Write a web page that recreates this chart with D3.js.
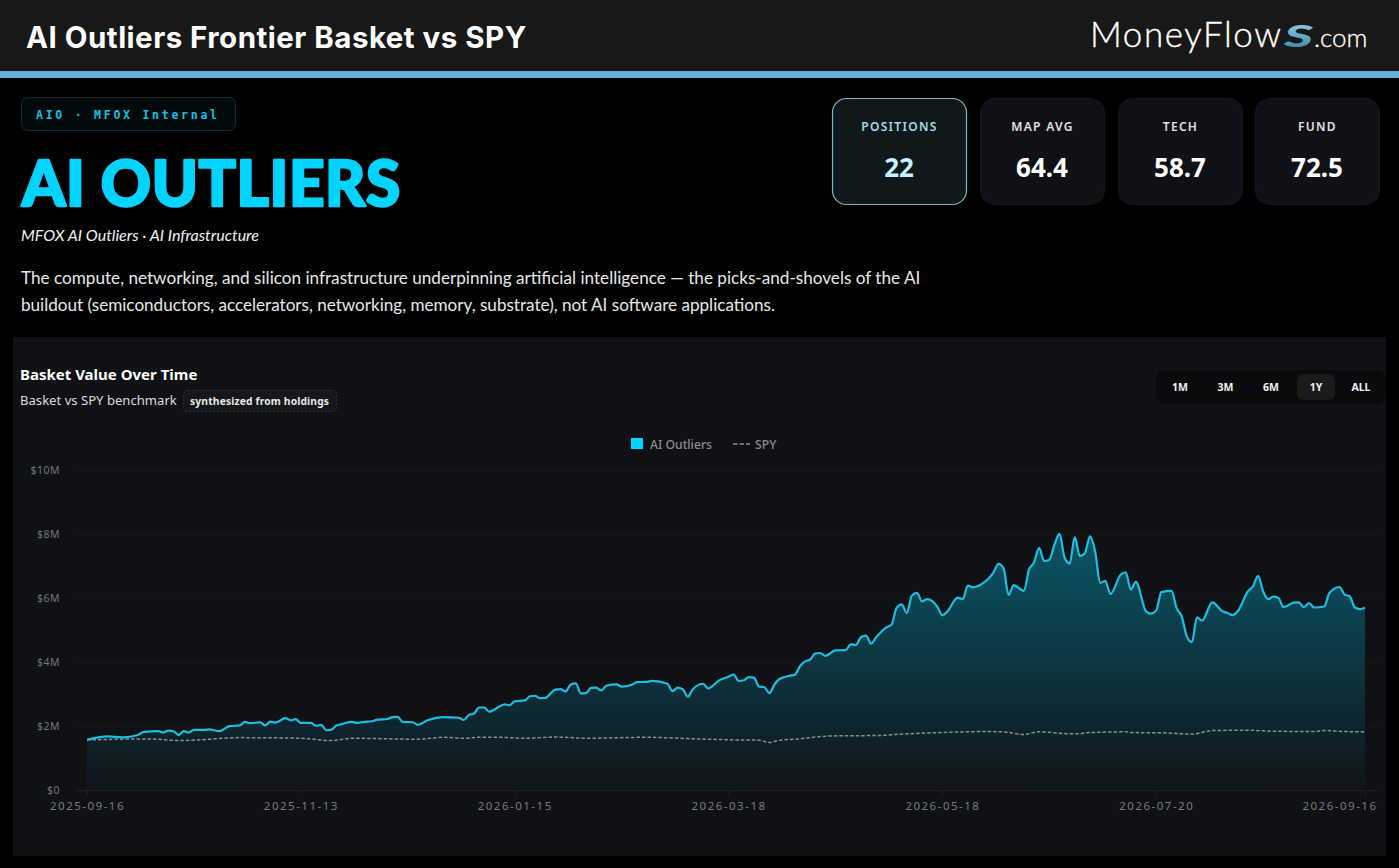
<!DOCTYPE html>
<html><head><meta charset="utf-8">
<script src="https://cdn.jsdelivr.net/npm/d3@7"></script>
<style>html,body{margin:0;padding:0;background:#000;overflow:hidden}svg{display:block}</style>
</head><body><svg id="c" width="1399" height="868"></svg>
<script>
// trading-session index (0 = 2025-09-16, 251 = 2026-09-16)
const basketSessions=[0,2,4,7,10,11,14,15,16,17,18,19,20,21,23,24,26,28,30,31,32,34,35,36,37,39,40,41,42,44,45,46,47,48,49,50,52,53,55,56,57,59,60,61,62,64,65,67,70,73,74,75,76,77,78,79,81,82,83,84,86,87,88,89,90,92,93,94,95,96,97,98,99,100,101,102,104,105,107,108,110,111,114,115,116,117,118,119,121,122,123,124,126,127,128,129,130,131,132,133,134,135,136,138,139,140,141,142,143,144,145,147,149,150,151,152,153,154,155,157,158,159,160,161,162,163,164,165,167,168,169,171,172,173,174,176,178,179,180,181,182,184,185,186,187,188,189,190,191,192,193,194,195,196,197,198,199,200,201,203,204,205,206,208,209,210,211,213,214,215,216,217,218,219,221,223,224,225,226,228,229,230,231,232,233,234,235,237,238,239,240,241,243,244,246,247,248,249,250,251];
const basketValues=[1.58,1.65,1.69,1.66,1.73,1.82,1.85,1.81,1.87,1.85,1.73,1.85,1.81,1.89,1.89,1.91,1.85,2.01,2.03,2.14,2.10,2.13,2.03,2.15,2.12,2.26,2.19,2.23,2.11,2.11,2.02,2.05,1.88,1.90,2.03,2.07,2.14,2.11,2.15,2.16,2.21,2.23,2.29,2.30,2.14,2.13,2.05,2.20,2.29,2.27,2.20,2.36,2.40,2.59,2.59,2.46,2.62,2.69,2.66,2.78,2.81,2.94,2.95,2.88,2.89,3.15,3.16,3.09,3.31,3.34,3.03,3.04,3.20,3.21,3.12,3.27,3.31,3.24,3.30,3.38,3.39,3.42,3.33,3.10,3.21,3.16,2.93,3.16,3.33,3.18,3.28,3.42,3.55,3.62,3.42,3.44,3.54,3.52,3.24,3.23,3.04,3.30,3.48,3.58,3.61,3.87,4.03,4.08,4.27,4.29,4.20,4.37,4.38,4.56,4.54,4.78,4.83,4.58,4.78,5.09,5.17,5.70,5.81,5.54,6.08,6.17,5.90,5.97,5.74,5.47,5.59,6.02,5.97,6.39,6.34,6.47,6.79,7.07,6.94,6.10,6.41,6.23,6.89,7.12,7.57,7.16,7.20,7.67,8.01,7.26,7.08,7.91,7.31,7.41,7.93,7.46,6.48,6.54,6.13,6.73,6.81,6.27,6.51,5.59,5.52,5.62,6.19,6.23,5.69,5.43,4.81,4.63,5.40,5.30,5.87,5.59,5.54,5.47,5.59,6.21,6.37,6.70,6.21,5.97,6.05,6.01,5.72,5.86,5.87,5.72,5.85,5.71,5.74,6.16,6.35,6.11,6.06,5.71,5.66,5.70];
const spySessions=[0,3,12,18,22,30,42,48,52,65,70,74,77,81,86,92,98,110,118,127,132,134,136,139,146,156,160,166,177,180,184,187,193,195,196,204,205,209,211,217,221,228,233,241,243,247,251];
const spyValues=[1.58,1.59,1.61,1.56,1.58,1.65,1.63,1.56,1.63,1.60,1.66,1.63,1.66,1.66,1.63,1.67,1.63,1.66,1.62,1.58,1.57,1.50,1.57,1.60,1.70,1.72,1.76,1.80,1.84,1.83,1.75,1.83,1.77,1.77,1.80,1.83,1.81,1.80,1.80,1.76,1.87,1.88,1.85,1.84,1.87,1.84,1.83];
const tickSessions=[0,42,84,126,168,210,251];
const tickDates=["2025-09-16","2025-11-13","2026-01-15","2026-03-18","2026-05-18","2026-07-20","2026-09-16"];
const yTicks=[0,2,4,6,8,10];
const stats=[["POSITIONS","22"],["MAP AVG","64.4"],["TECH","58.7"],["FUND","72.5"]];
const ranges=["1M","3M","6M","1Y","ALL"];
const activeRange="1Y";

const svg=d3.select("#c");
const sans="Lato, sans-serif", noto="'Noto Sans', sans-serif", mono="'DejaVu Sans Mono', monospace";
const rect=(p,x,y,w,h,o={})=>{const r=p.append("rect").attr("x",x).attr("y",y).attr("width",w).attr("height",h);
 Object.entries(o).forEach(([k,v])=>r.attr(k,v));return r;};
const text=(p,x,y,s,o={})=>{const t=p.append("text").attr("x",x).attr("y",y).text(s);
 Object.entries(o).forEach(([k,v])=>t.attr(k,v));return t;};

const defs=svg.append("defs");
const g=defs.append("linearGradient").attr("id","ag").attr("x1",0).attr("x2",0).attr("y1",0).attr("y2",1);
g.append("stop").attr("offset",0).attr("stop-color","#00d4ff").attr("stop-opacity",0.35);
g.append("stop").attr("offset",1).attr("stop-color","#00d4ff").attr("stop-opacity",0.02);
const sg=defs.append("linearGradient").attr("id","sg").attr("x1",0).attr("x2",0).attr("y1",0).attr("y2",1);
sg.append("stop").attr("offset",0).attr("stop-color","#a3dcee");
sg.append("stop").attr("offset",1).attr("stop-color","#2f7f9f");

rect(svg,0,0,1399,868,{fill:"#000"});
rect(svg,0,0,1399,71,{fill:"#181818"});
rect(svg,0,71,1399,7,{fill:"#62b0d9"});
text(svg,26,47.5,"AI Outliers Frontier Basket vs SPY",{fill:"#fff","font-family":"Inter, sans-serif","font-size":29.5,"font-weight":700,"letter-spacing":0.48});
text(svg,1090,47,"MoneyFlow",{fill:"#fff","font-family":"Lato, sans-serif","font-size":35,"font-weight":300,"letter-spacing":1.6,"stroke":"#fff","stroke-width":0.35});
text(svg,1284,47,"S",{fill:"url(#sg)","font-family":"Lato, sans-serif","font-size":30,"font-weight":900,"font-style":"italic","textLength":29,"lengthAdjust":"spacingAndGlyphs"});
text(svg,1314,47,".com",{fill:"#fff","font-family":"Lato, sans-serif","font-size":26,"font-weight":300,"stroke":"#fff","stroke-width":0.3});

rect(svg,21.5,97.5,214,33,{fill:"#020a0c",stroke:"#0f2c33",rx:6});
text(svg,36,119,"AIO · MFOX Internal",{fill:"#14c2e6","font-family":mono,"font-size":11.5,"font-weight":700,"letter-spacing":2.75});
text(svg,22,206,"AI OUTLIERS",{fill:"#00d4ff",stroke:"#00d4ff","stroke-width":2.4,"stroke-linejoin":"round","font-family":sans,"font-size":62,"font-weight":900,"letter-spacing":0.6});
text(svg,21,241,"MFOX AI Outliers · AI Infrastructure",{fill:"#f2f2f2","font-family":sans,"font-size":16,"font-style":"italic"});
text(svg,21,284,"The compute, networking, and silicon infrastructure underpinning artificial intelligence — the picks-and-shovels of the AI",{fill:"#e8e8e8","font-family":sans,"font-size":17.15});
text(svg,21,311,"buildout (semiconductors, accelerators, networking, memory, substrate), not AI software applications.",{fill:"#e8e8e8","font-family":sans,"font-size":17.1});

const cardX=[832.5,980.5,1118.5,1255.5], cardW=[134,124,124,124];
stats.forEach((s,i)=>{
 const on=i===0;
 rect(svg,cardX[i],98.5,cardW[i],106,{fill:on?"#10181c":"#101116",stroke:on?"#7fb5c4":"#16171b","stroke-width":on?1.2:1,rx:14});
 const cx=cardX[i]+cardW[i]/2;
 text(svg,cx,130.5,s[0],{fill:on?"#a4dbe6":"#e0e2e6","font-family":noto,"font-size":12,"font-weight":600,"letter-spacing":1.3,"text-anchor":"middle"});
 text(svg,cx-0.5,176.5,s[1],{fill:on?"#c4f3fb":"#fff","font-family":noto,"font-size":26,"font-weight":700,"text-anchor":"middle"});
});

// panel
rect(svg,13,337,1373,519,{fill:"#0f1115"});
text(svg,20,380,"Basket Value Over Time",{fill:"#fff","font-family":noto,"font-size":15,"font-weight":700});
text(svg,20,405,"Basket vs SPY benchmark",{fill:"#dcdcdc","font-family":noto,"font-size":13.1});
rect(svg,183.5,390.5,153,21,{fill:"#15171b",stroke:"#34363b","stroke-dasharray":"2 2",rx:4});
text(svg,190,404.5,"synthesized from holdings",{fill:"#e8e8e8","font-family":noto,"font-size":10.3,"font-weight":700,"letter-spacing":0.15});

rect(svg,1156,370,230,34,{fill:"#0a0a0c",rx:9});
const btnX=[1180,1225.5,1271,1316,1361];
ranges.forEach((r,i)=>{
 if(r===activeRange) rect(svg,btnX[i]-19,374,38,26,{fill:"#1b1b1c",rx:6});
 text(svg,btnX[i],391,r,{fill:"#f0f0f0","font-family":noto,"font-size":10.5,"font-weight":700,"text-anchor":"middle"});
});

// legend
rect(svg,631,438,12,11,{fill:"#00d4ff"});
text(svg,650,448.5,"AI Outliers",{fill:"#8b8d90","font-family":noto,"font-size":12.2,"font-weight":500});
svg.append("line").attr("x1",733).attr("x2",750).attr("y1",444).attr("y2",444).attr("stroke","#8b8d90").attr("stroke-width",1.6).attr("stroke-dasharray","4.5 2");
text(svg,755,448.5,"SPY",{fill:"#8b8d90","font-family":noto,"font-size":12.2,"font-weight":500});

// chart
const x=d3.scaleLinear().domain([0,251]).range([87,1365]);
const y=d3.scaleLinear().domain([0,10]).range([790.5,470]);
const gridG=svg.append("g").attr("transform","translate(75,0)")
 .call(d3.axisLeft(y).tickValues(yTicks).tickFormat(d=>"$"+d+(d?"M":"")).tickSize(-1302).tickPadding(15));
gridG.select(".domain").remove();
gridG.selectAll("line").attr("stroke","#fff").attr("stroke-opacity",0.03);
gridG.selectAll("text").attr("fill","#74767a").attr("font-family",noto).attr("font-size",10.5).attr("letter-spacing",0.5);

const basket=basketSessions.map((s,i)=>[s,basketValues[i]]);
const spy=spySessions.map((s,i)=>[s,spyValues[i]]);
const curve=d3.curveMonotoneX;
svg.append("path").datum(basket).attr("fill","url(#ag)")
 .attr("d",d3.area().x(d=>x(d[0])).y0(y(0)).y1(d=>y(d[1])).curve(curve));
svg.append("path").datum(spy).attr("fill","none").attr("stroke","#8b8f92").attr("stroke-width",1.5).attr("stroke-dasharray","3.5 2")
 .attr("d",d3.line().x(d=>x(d[0])).y(d=>y(d[1])).curve(curve));
svg.append("path").datum(basket).attr("fill","none").attr("stroke","#1cbfe2").attr("stroke-width",2.2).attr("stroke-linejoin","round")
 .attr("d",d3.line().x(d=>x(d[0])).y(d=>y(d[1])).curve(curve));

const xa=svg.append("g").attr("transform","translate(0,790.5)")
 .call(d3.axisBottom(x).tickValues(tickSessions).tickFormat((d,i)=>tickDates[i]).tickSize(5).tickPadding(6));
xa.select(".domain").attr("stroke","#fff").attr("stroke-opacity",0.04).attr("d","M75,0H1377");
xa.selectAll("line").attr("stroke","#fff").attr("stroke-opacity",0.06);
xa.selectAll("text").attr("fill","#7a7c7f").attr("font-family",noto).attr("font-size",11.5).attr("letter-spacing",1.5);
xa.selectAll("text").filter((d,i)=>i===tickSessions.length-1).attr("text-anchor","end").attr("dx",12);
</script></body></html>
